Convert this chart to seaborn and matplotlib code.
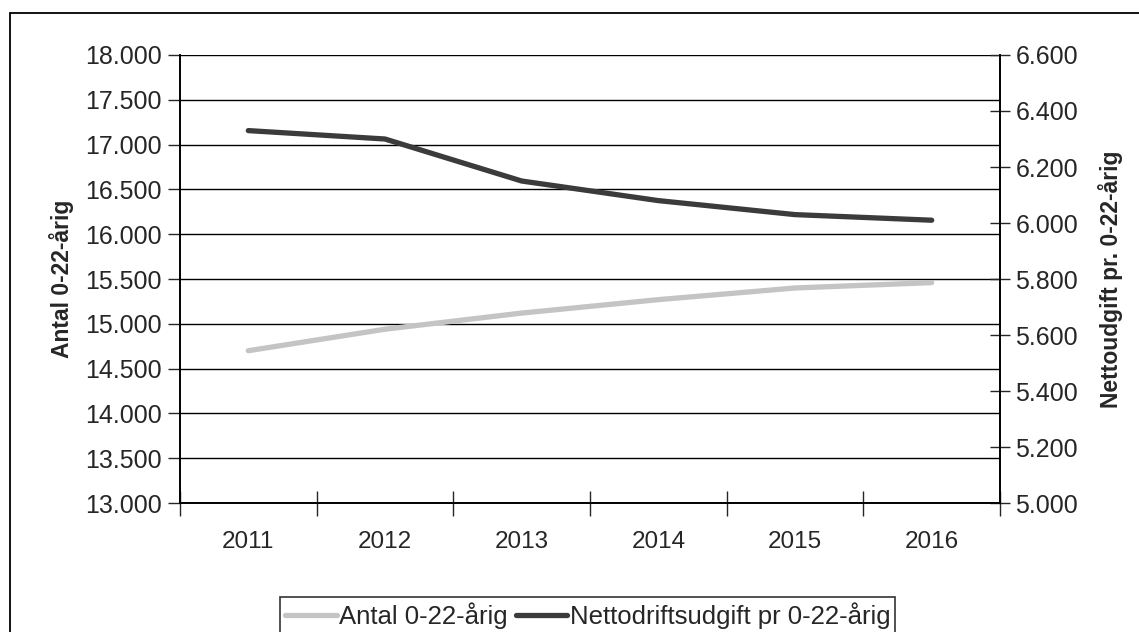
"""
plot.py

Antal 0-22-årige og nettodriftsudgift pr. 0-22-årig, 2011-2016.
Two y-axes: count on the left, expense per child on the right.
"""

import pandas as pd
import matplotlib.pyplot as plt
from matplotlib.patches import Rectangle
from matplotlib.ticker import FuncFormatter, MultipleLocator
import seaborn as sns


# ========== DATA ========== #

YEARS = [2011, 2012, 2013, 2014, 2015, 2016]
ANTAL = [14700, 14940, 15120, 15270, 15400, 15460]
NETTO = [6330, 6300, 6150, 6080, 6030, 6010]

LABEL_ANTAL = "Antal 0-22-årig"
LABEL_NETTO = "Nettodriftsudgift pr 0-22-årig"
YLABEL_LEFT = "Antal 0-22-årig"
YLABEL_RIGHT = "Nettoudgift pr. 0-22-årig"

LIGHT = "#c4c4c4"
DARK = "#3b3b3b"


def dk_thousands(x, pos):
    """Danish style thousands separator: 18.000"""
    return f"{int(round(x)):,}".replace(",", ".")


def main():
    sns.set_style("white")
    plt.rcParams["font.family"] = ["Liberation Sans", "DejaVu Sans"]

    df = pd.DataFrame({"year": YEARS, "antal": ANTAL, "netto": NETTO})

    fig = plt.figure(figsize=(11.39, 6.32), dpi=100)
    ax = fig.add_axes([0.158, 0.204, 0.72, 0.709])
    ax2 = ax.twinx()

    # outer chart frame (continues off the picture to the right and bottom)
    fig.patches.append(Rectangle((10 / 1139, -0.05), 1.2, 1 - 13 / 632 + 0.05,
                                 transform=fig.transFigure, fill=False,
                                 edgecolor="black", linewidth=1.3, zorder=0))

    sns.lineplot(data=df, x="year", y="antal", ax=ax, color=LIGHT,
                 linewidth=3.8, label=LABEL_ANTAL, legend=False,
                 solid_capstyle="round", solid_joinstyle="round", zorder=3)
    sns.lineplot(data=df, x="year", y="netto", ax=ax2, color=DARK,
                 linewidth=3.8, label=LABEL_NETTO, legend=False,
                 solid_capstyle="round", solid_joinstyle="round", zorder=3)

    # left axis
    ax.set_ylim(13000, 18000)
    ax.yaxis.set_major_locator(MultipleLocator(500))
    ax.yaxis.set_major_formatter(FuncFormatter(dk_thousands))
    ax.grid(axis="y", color="black", linewidth=1.0)
    ax.set_axisbelow(True)
    ax.set_ylabel(YLABEL_LEFT, fontsize=16.5, fontweight="bold", labelpad=8)
    ax.tick_params(axis="y", direction="out", length=9, width=1,
                   labelsize=18, left=True, pad=4)

    # right axis
    ax2.set_ylim(5000, 6600)
    ax2.yaxis.set_major_locator(MultipleLocator(200))
    ax2.yaxis.set_major_formatter(FuncFormatter(dk_thousands))
    ax2.set_ylabel(YLABEL_RIGHT, fontsize=16.5, fontweight="bold", labelpad=14)
    ax2.tick_params(axis="y", direction="inout", length=14, width=1,
                    labelsize=18, right=True, pad=4)

    # category axis with tick marks between the years
    ax.set_xlim(YEARS[0] - 0.5, YEARS[-1] + 0.5)
    ax.set_xticks(YEARS)
    ax.set_xticklabels([str(y) for y in YEARS])
    ax.set_xticks([y - 0.5 for y in YEARS] + [YEARS[-1] + 0.5], minor=True)
    ax.tick_params(axis="x", which="major", length=0, labelsize=17.5, pad=20)
    ax.tick_params(axis="x", which="minor", direction="inout", length=18,
                   width=1, bottom=True)
    ax.set_xlabel("")

    for a in (ax, ax2):
        a.spines["top"].set_visible(False)
        for side in ("left", "right", "bottom"):
            a.spines[side].set_color("black")
            a.spines[side].set_linewidth(1.2)

    handles = ax.get_lines()[:1] + ax2.get_lines()[:1]
    leg = fig.legend(handles, [LABEL_ANTAL, LABEL_NETTO],
                     loc="upper center", bbox_to_anchor=(0.516, 1 - 597 / 632),
                     ncol=2, fontsize=18.5, frameon=True, fancybox=False,
                     edgecolor="black", handlelength=2.0, handletextpad=0.1,
                     columnspacing=0.3, borderpad=0.2, borderaxespad=0)
    leg.get_frame().set_linewidth(1.2)

    fig.savefig("out.png", dpi=100)
    plt.close(fig)


if __name__ == "__main__":
    main()
